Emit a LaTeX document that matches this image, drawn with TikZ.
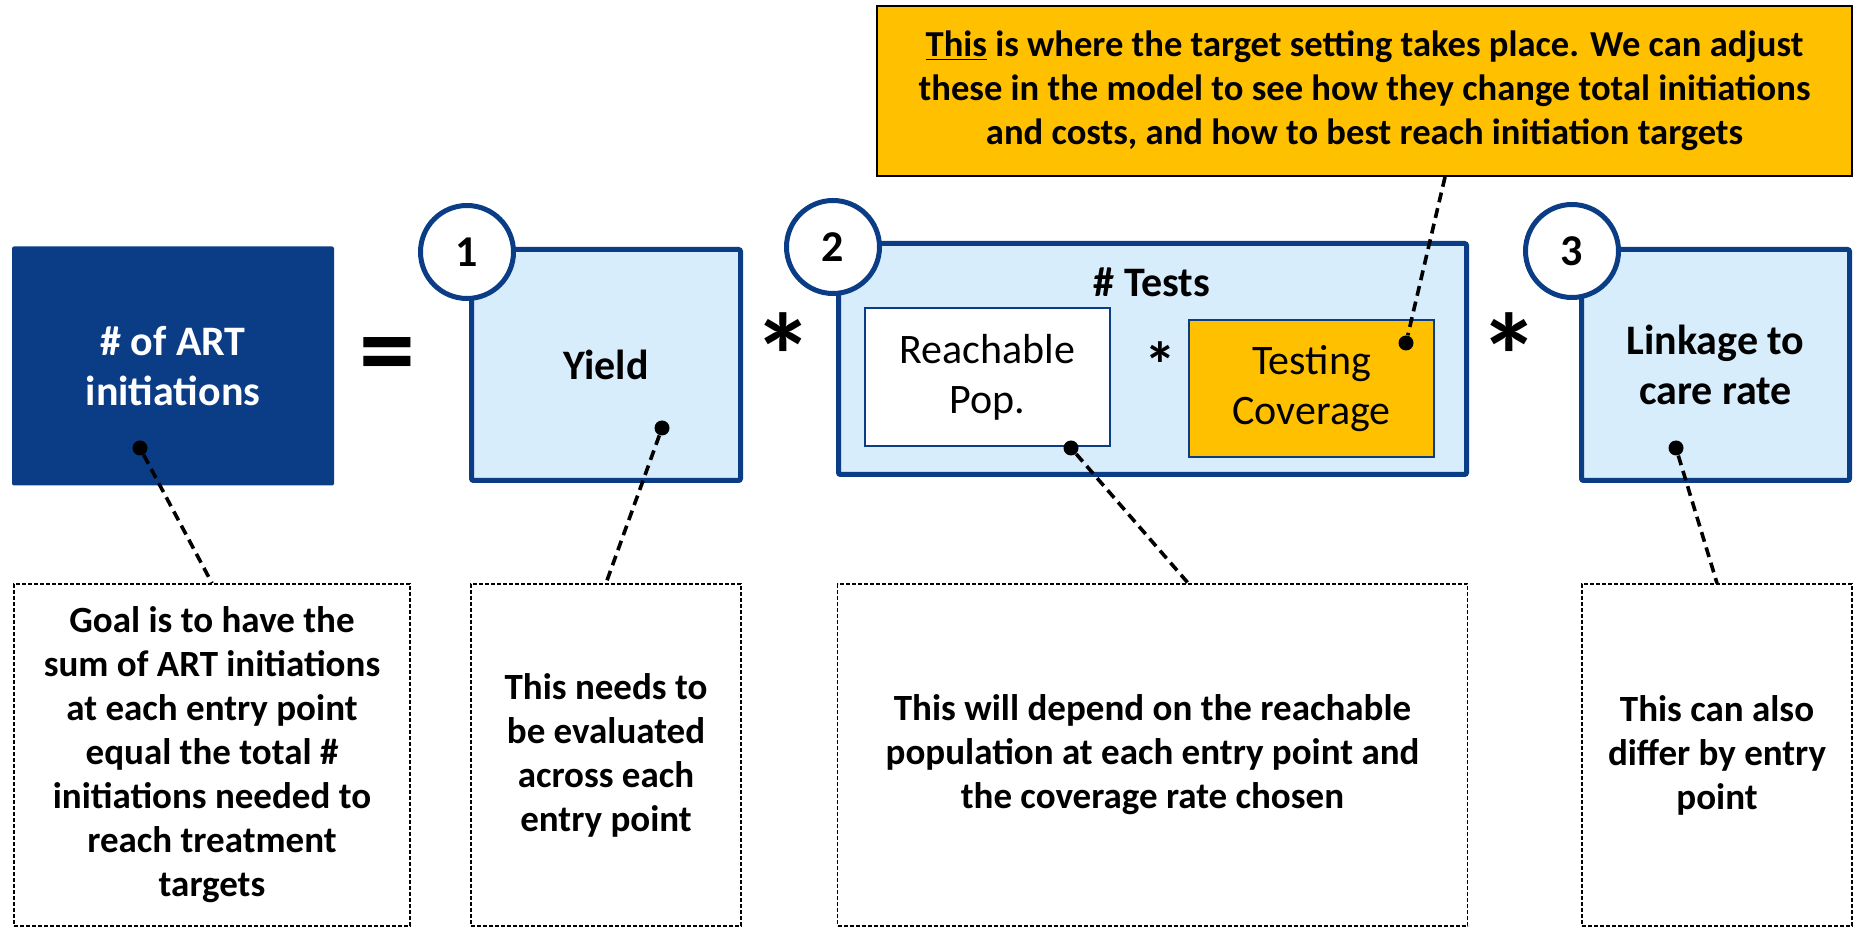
\documentclass[tikz,border=0pt]{standalone}
\usepackage{fontspec}
\setmainfont{Carlito}
\usepackage{tikz}

\definecolor{artblue}{HTML}{0B3D87}
\definecolor{paleblue}{HTML}{D7EDFC}
\definecolor{gold}{HTML}{FFC000}

\tikzset{
  bluebox/.style={draw=artblue, line width=2.5pt, fill=paleblue, rounded corners=1pt,
    minimum height=115.5pt, align=center, font=\fontsize{21}{25}\selectfont\bfseries},
  innerbox/.style={draw=artblue, line width=1pt, minimum width=122.5pt, minimum height=69pt,
    align=center, font=\fontsize{21}{25}\selectfont},
  numcirc/.style={circle, draw=artblue, line width=2.5pt, fill=white, minimum size=46.5pt,
    inner sep=0pt, font=\fontsize{22}{26}\selectfont\bfseries},
  notebox/.style={draw, line width=0.8pt, dash pattern=on 2pt off 1pt, minimum height=171pt,
    align=center, font=\fontsize{18.5}{22}\selectfont\bfseries},
  dotmark/.style={circle, fill=black, inner sep=0pt, minimum size=7.5pt},
  leader/.style={line width=1.8pt, dash pattern=on 5pt off 3pt},
  bigsign/.style={font=\fontsize{60}{60}\selectfont\bfseries, inner sep=0pt}
}

\begin{document}
\begin{tikzpicture}[x=0.5pt, y=-0.5pt]
\useasboundingbox (0,0) rectangle (1857,929);

% top row: the product
\node[fill=artblue, rounded corners=1pt, minimum width=161pt, minimum height=119.5pt,
  align=center, text=white, font=\fontsize{21}{25}\selectfont\bfseries] (art) at (173,366) {\# of ART\\ initiations};
\node[font=\fontsize{56}{56}\selectfont\bfseries, inner sep=0pt] (eq) at (387,363) {=};
\node[bluebox, minimum width=134.5pt] (yield) at (606,365) {Yield};
\node[bigsign] (times1) at (783,356) {*};
\node[bluebox, minimum width=314pt] (tests) at (1152.5,359) {};
\node[font=\fontsize{21}{25}\selectfont\bfseries] (testslbl) at (1152,282) {\# Tests};
\node[innerbox, fill=white] (reach) at (987.5,377) {Reachable\\ Pop.};
\node[font=\fontsize{32}{32}\selectfont\bfseries, inner sep=0pt] (times2) at (1160,365) {*};
\node[innerbox, fill=gold, minimum height=68.5pt] (cover) at (1311.5,388.5) {Testing\\ Coverage};
\node[bigsign] (times3) at (1509,356) {*};
\node[bluebox, minimum width=134pt] (link) at (1715.5,365) {Linkage to\\ care rate};

% numbers
\node[numcirc] (c1) at (467,252) {1};
\node[numcirc] (c2) at (833,247) {2};
\node[numcirc] (c3) at (1572,251) {3};

% callout
\node[draw, line width=0.8pt, fill=gold, minimum width=487.7pt, minimum height=85pt, align=center,
  font=\fontsize{18.3}{22}\selectfont\bfseries] (note) at (1364.5,91)
  {\underline{This} is where the target setting takes place. We can adjust\\
   these in the model to see how they change total initiations\\
   and costs, and how to best reach initiation targets};

% bottom notes
\node[notebox, minimum width=198pt] (goal) at (212,755) {Goal is to have the\\ sum of ART initiations\\ at each entry point\\ equal the total \#\\ initiations needed to\\ reach treatment\\ targets};
\node[notebox, minimum width=135pt] (need) at (606,755) {This needs to\\ be evaluated\\ across each\\ entry point};
\node[notebox, minimum width=315pt] (depend) at (1152.5,755) {This will depend on the reachable\\ population at each entry point and\\ the coverage rate chosen};
\node[notebox, minimum width=135pt] (differ) at (1717,755) {This can also\\ differ by entry\\ point};

% dots and leaders
\node[dotmark] (artdot) at (140,448) {};
\node[dotmark] (yielddot) at (662,428) {};
\node[dotmark] (reachdot) at (1071,448) {};
\node[dotmark] (coverdot) at (1406,343) {};
\node[dotmark] (linkdot) at (1676,448) {};
\coordinate (dependtop) at (1188,583);
\coordinate (notefoot) at (1445,177);

\draw[leader] (artdot) -- (goal.north);
\draw[leader] (yielddot) -- (need.north);
\draw[leader] (reachdot) -- (dependtop);
\draw[leader] (linkdot) -- (differ.north);
\draw[leader] (notefoot) -- (coverdot);
\end{tikzpicture}
\end{document}
